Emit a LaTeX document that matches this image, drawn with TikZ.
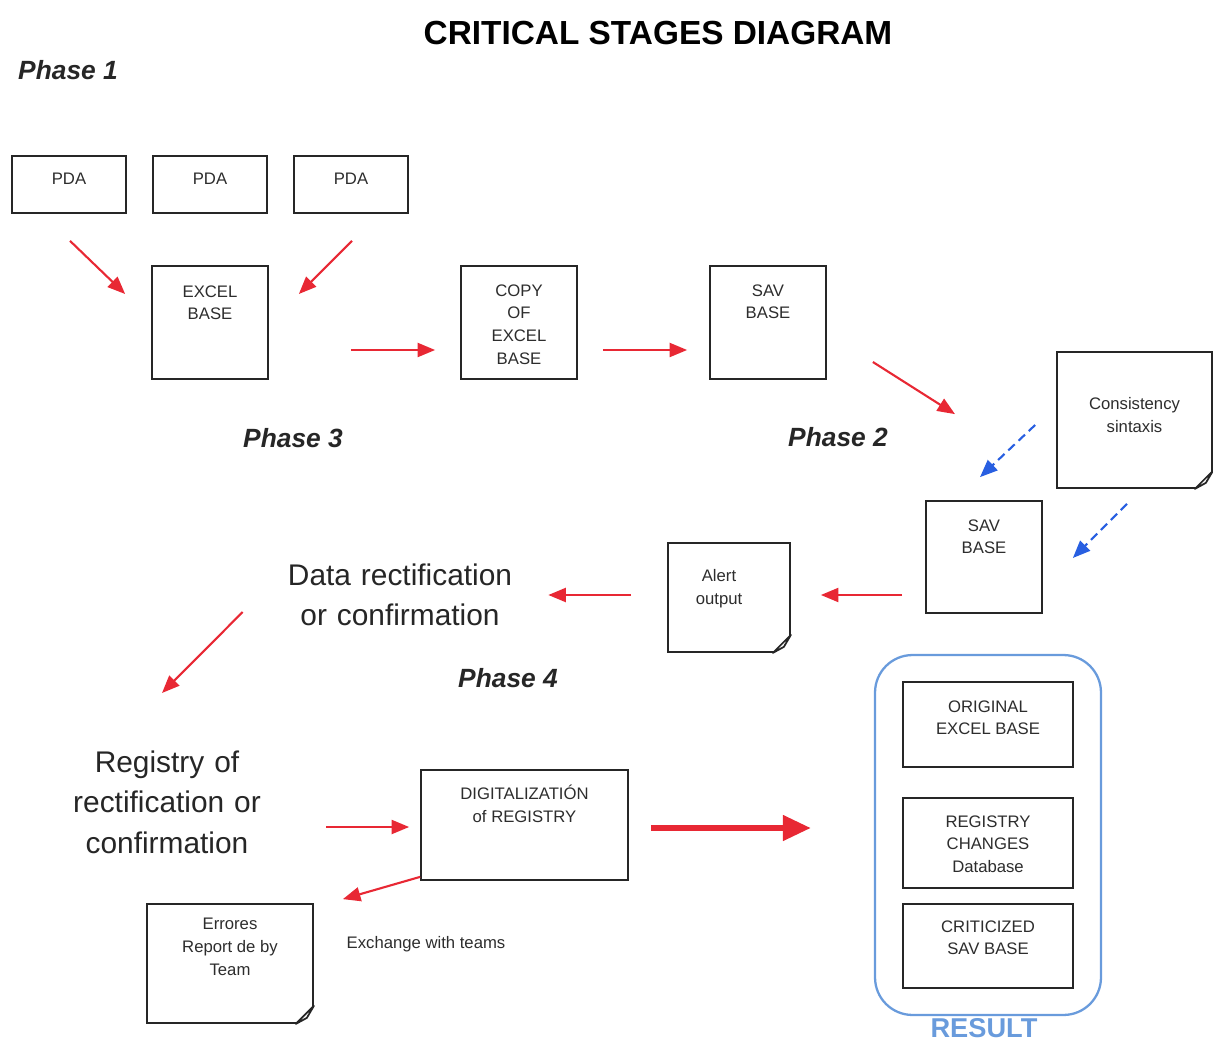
\documentclass[tikz,border=0pt]{standalone}
\usepackage{fontspec}
\setmainfont{Liberation Sans}
\usetikzlibrary{shapes,arrows.meta,positioning,calc}
\definecolor{stagered}{RGB}{232,40,52}
\definecolor{checkblue}{RGB}{40,95,225}
\definecolor{resultblue}{RGB}{105,155,220}
\definecolor{boxtext}{RGB}{45,45,45}

% folded corner of a note box
\newcommand{\notefold}[1]{%
  \fill[white] ([shift={(-18,2)}]#1.south east) -- ([shift={(2,2)}]#1.south east) -- ([shift={(2,-18)}]#1.south east) -- cycle;
  \draw[line width=1pt, draw=black!85, line join=round] ([shift={(-18,0)}]#1.south east) -- ([shift={(0,-18)}]#1.south east) -- ([shift={(-7,-6)}]#1.south east) -- cycle;}

\begin{document}
\begin{tikzpicture}[x=0.02cm, y=-0.02cm,
    stagebox/.style={draw=black!85, line width=1pt, fill=white, inner sep=0pt},
    intext/.style={anchor=north, inner sep=0pt, align=center, yshift=-#1,
        font=\fontsize{9.5}{13}\selectfont, text=boxtext},
    intext/.default=0.38cm,
    phase/.style={font=\fontsize{15}{18}\selectfont\bfseries\itshape, text=black!85},
    bigtext/.style={align=center, inner sep=0pt, font=\fontsize{17}{23}\selectfont, text=black!85},
    redarrow/.style={-{Triangle[length=10pt,width=8pt]}, draw=stagered, line width=1.2pt},
    bluearrow/.style={-{Triangle[length=10pt,width=8pt]}, draw=checkblue, line width=1.2pt, dash pattern=on 5pt off 3pt}]
    \useasboundingbox (0,0) rectangle (1213,1043);

    % Titles
    \node[font=\fontsize{19}{23}\selectfont\bfseries] (title) at (658,33) {CRITICAL STAGES DIAGRAM};
    \node[phase] (ph1) at (68,70) {Phase 1};
    \node[phase] (ph3) at (293,438) {Phase 3};
    \node[phase] (ph2) at (838,437) {Phase 2};
    \node[phase] (ph4) at (508,678) {Phase 4};

    % Phase 1 and 3 boxes
    \node[stagebox, minimum width=2.28cm, minimum height=1.14cm, label={[intext=0.36cm]north:PDA}] (pda1) at (69,184.5) {};
    \node[stagebox, minimum width=2.28cm, minimum height=1.14cm, label={[intext=0.36cm]north:PDA}] (pda2) at (210,184.5) {};
    \node[stagebox, minimum width=2.28cm, minimum height=1.14cm, label={[intext=0.36cm]north:PDA}] (pda3) at (351,184.5) {};
    \node[stagebox, minimum width=2.32cm, minimum height=2.26cm, label={[intext=0.4cm]north:{EXCEL\\BASE}}] (excel) at (210,322.5) {};
    \node[stagebox, minimum width=2.32cm, minimum height=2.26cm, label={[intext=0.38cm]north:{COPY\\OF\\EXCEL\\BASE}}] (copy) at (519,322.5) {};
    \node[stagebox, minimum width=2.32cm, minimum height=2.26cm, label={[intext=0.38cm]north:{SAV\\BASE}}] (sav) at (768,322.5) {};

    % Phase 2 boxes
    \node[stagebox, minimum width=3.1cm, minimum height=2.72cm, label={[intext=0.92cm]north:{Consistency\\sintaxis}}] (cons) at (1134.5,420) {};
    \notefold{cons}
    \node[stagebox, minimum width=2.32cm, minimum height=2.24cm, label={[intext=0.38cm]north:{SAV\\BASE}}] (sav2) at (984,557) {};
    \node[stagebox, minimum width=2.44cm, minimum height=2.18cm, label={[intext=0.54cm, xshift=-0.2cm]north:{Alert\\output}}] (alert) at (729,597.5) {};
    \notefold{alert}
    \node[bigtext, text width=6cm] (rect) at (400,595) {Data rectification\\or confirmation};

    % Phase 4 boxes
    \node[bigtext, text width=5cm] (registry) at (167,802) {Registry of\\rectification or\\confirmation};
    \node[stagebox, minimum width=4.14cm, minimum height=2.2cm, label={[intext=0.32cm]north:{DIGITALIZATIÓN\\of REGISTRY}}] (digit) at (524.5,825) {};
    \node[stagebox, minimum width=3.32cm, minimum height=2.38cm, label={[intext=0.3cm]north:{Errores\\Report de by\\Team}}] (errores) at (230,963.5) {};
    \notefold{errores}
    \node[font=\fontsize{9.5}{12}\selectfont, text=boxtext] (exch) at (426,944) {Exchange with teams};

    % Result
    \node[draw=resultblue, line width=1.3pt, rounded corners=0.75cm, minimum width=4.52cm, minimum height=7.2cm] (result) at (988,835) {};
    \node[stagebox, minimum width=3.4cm, minimum height=1.7cm, label={[intext=0.38cm]north:{ORIGINAL\\EXCEL BASE}}] (orig) at (988,724.5) {};
    \node[stagebox, minimum width=3.4cm, minimum height=1.8cm, label={[intext=0.36cm]north:{REGISTRY\\CHANGES\\Database}}] (regdb) at (988,843) {};
    \node[stagebox, minimum width=3.4cm, minimum height=1.68cm, label={[intext=0.34cm]north:{CRITICIZED\\SAV BASE}}] (crit) at (988,946) {};
    \node[font=\fontsize{15.5}{18}\selectfont\bfseries, text=resultblue, inner sep=0pt] (restitle) at (984,1028) {RESULT};

    % Arrows
    \draw[redarrow] ([shift={(1,27)}]pda1.south) -- ([shift={(-26,-28.5)}]excel.west);
    \draw[redarrow] ([shift={(1,27)}]pda3.south) -- ([shift={(30,-28.5)}]excel.east);
    \draw[redarrow] ([shift={(82,27.5)}]excel.east) -- ([shift={(-25,27.5)}]copy.west);
    \draw[redarrow] ([shift={(25,27.5)}]copy.east) -- ([shift={(-22,27.5)}]sav.west);
    \draw[redarrow] ([shift={(46,39.5)}]sav.east) -- ([shift={(-29,-86)}]sav2.north);
    \draw[bluearrow] ([shift={(-21,5)}]cons.west) -- ([shift={(-4,-23)}]sav2.north);
    \draw[bluearrow] ([shift={(-7.5,15)}]cons.south) -- ([shift={(30,1)}]sav2.east);
    \draw[redarrow] ([shift={(-23,38)}]sav2.west) -- ([shift={(30,-2.5)}]alert.east);
    \draw[redarrow] ([shift={(-36,-2.5)}]alert.west) -- ([shift={(-2,0)}]rect.east);
    \draw[redarrow] ([shift={(-7,17)}]rect.west) -- ([shift={(-5,-109)}]registry.center);
    \draw[redarrow] ([shift={(34,25)}]registry.east) -- ([shift={(-11,2)}]digit.west);
    \draw[-{Triangle[length=16pt,width=14pt]}, draw=stagered, line width=3.4pt] ([shift={(22,3)}]digit.east) -- ([shift={(-63,-7)}]result.west);
    \draw[redarrow] ([shift={(0,-4)}]digit.south west) -- ([shift={(29,-4)}]errores.north east);
\end{tikzpicture}
\end{document}
